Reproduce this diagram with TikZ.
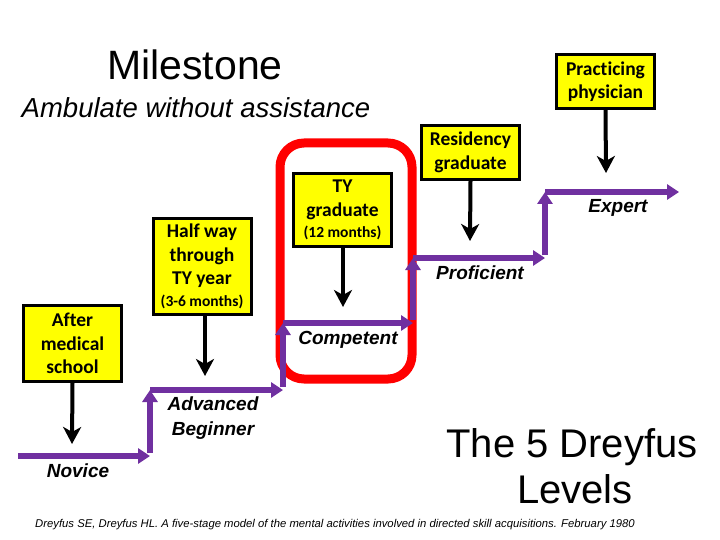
\documentclass[tikz,border=0pt]{standalone}
\usepackage{fontspec}
\usetikzlibrary{arrows.meta}
\newfontfamily\arialf{Liberation Sans}
\newfontfamily\calf[Ligatures=NoCommon]{Carlito}
\definecolor{stepPurple}{RGB}{112,48,160}
\definecolor{boxYellow}{RGB}{255,255,0}
\tikzset{
  ybox/.style={draw=black,line width=3pt,fill=boxYellow,align=center,inner sep=0pt,
    minimum width=98pt,font=\calf\bfseries\fontsize{19.5}{23.5}\selectfont},
  downarrow/.style={draw=black,line width=4pt,-{Stealth[length=17pt,width=18pt,inset=5pt]}},
  stair/.style={draw=stepPurple,line width=5.5pt,-{Triangle[length=12pt,width=15pt]}},
  steplabel/.style={font=\arialf\bfseries\itshape\fontsize{19}{25}\selectfont,align=center}
}
\begin{document}
\begin{tikzpicture}[x=1pt,y=-1pt]
\useasboundingbox (0,0) rectangle (720,540);
% titles
\node[anchor=base,font=\arialf\fontsize{41}{45}\selectfont] (ms) at (195,80) {Milestone};
\node[anchor=base,font=\arialf\itshape\fontsize{27.5}{30}\selectfont] (amb) at (196,118) {Ambulate without assistance};
\node[anchor=base,font=\arialf\fontsize{40}{46}\selectfont,align=center] (dl1) at (572,457) {The 5 Dreyfus};
\node[anchor=base,font=\arialf\fontsize{40}{46}\selectfont] (dl2) at (575,503) {Levels};
\node[anchor=base west,font=\arialf\itshape\fontsize{11.3}{13}\selectfont,inner sep=0pt] (cite) at (35,527)
  {Dreyfus SE, Dreyfus HL. A five-stage model of the mental activities involved in directed skill acquisitions. February 1980};
% red highlight
\draw[red,line width=9pt,rounded corners=24pt] (280,143) rectangle (412,379);
% yellow boxes
\node[ybox,minimum height=54pt] (prac) at (605.5,81.5) {Practicing\\physician};
\node[ybox,minimum height=54pt] (resid) at (470.5,152.5) {Residency\\graduate};
\node[ybox,minimum height=73pt] (ty) at (342.5,210) {TY\\graduate\\[-2pt]{\fontsize{15.5}{16}\selectfont(12 months)}};
\node[ybox,minimum height=96pt] (half) at (202,266.5) {Half way\\through\\TY year\\[-2pt]{\fontsize{15.5}{16}\selectfont(3-6 months)}};
\node[ybox,minimum height=76pt] (after) at (72.5,343.5) {After\\medical\\school};
% tips of black arrows
\coordinate (tprac) at (606,173);
\coordinate (tresid) at (470,241);
\coordinate (tty) at (343,307);
\coordinate (thalf) at (205,376);
\coordinate (tafter) at (72,444);
\draw[downarrow] (prac.south) -- (tprac);
\draw[downarrow] (resid.south) -- (tresid);
\draw[downarrow] (ty.south -| tty) -- (tty);
\draw[downarrow] (half.south -| thalf) -- (thalf);
\draw[downarrow] (after.south) -- (tafter);
% staircase
\coordinate (s0) at (18,456);
\coordinate (s1) at (150,456);
\coordinate (s2) at (150,390);
\coordinate (s3) at (283,390);
\coordinate (s4) at (283,323);
\coordinate (s5) at (413,323);
\coordinate (s6) at (413,258);
\coordinate (s7) at (545,258);
\coordinate (s8) at (545,192);
\coordinate (s9) at (679,192);
\draw[stair] (s0) -- (s1);
\draw[stair] ([yshift=2.75pt]s1) -- (s2);
\draw[stair] (s2) -- (s3);
\draw[stair] ([yshift=2.75pt]s3) -- (s4);
\draw[stair] (s4) -- (s5);
\draw[stair] ([yshift=2.75pt]s5) -- (s6);
\draw[stair] (s6) -- (s7);
\draw[stair] ([yshift=2.75pt]s7) -- (s8);
\draw[stair] (s8) -- (s9);
% step labels
\node[steplabel] (nov) at (78,471) {Novice};
\node[steplabel] (adv) at (213,418) {Advanced\\Beginner};
\node[steplabel] (comp) at (348,340) {Competent};
\node[steplabel] (prof) at (480,273) {Proficient};
\node[steplabel] (exp) at (618,208) {Expert};
\end{tikzpicture}
\end{document}
